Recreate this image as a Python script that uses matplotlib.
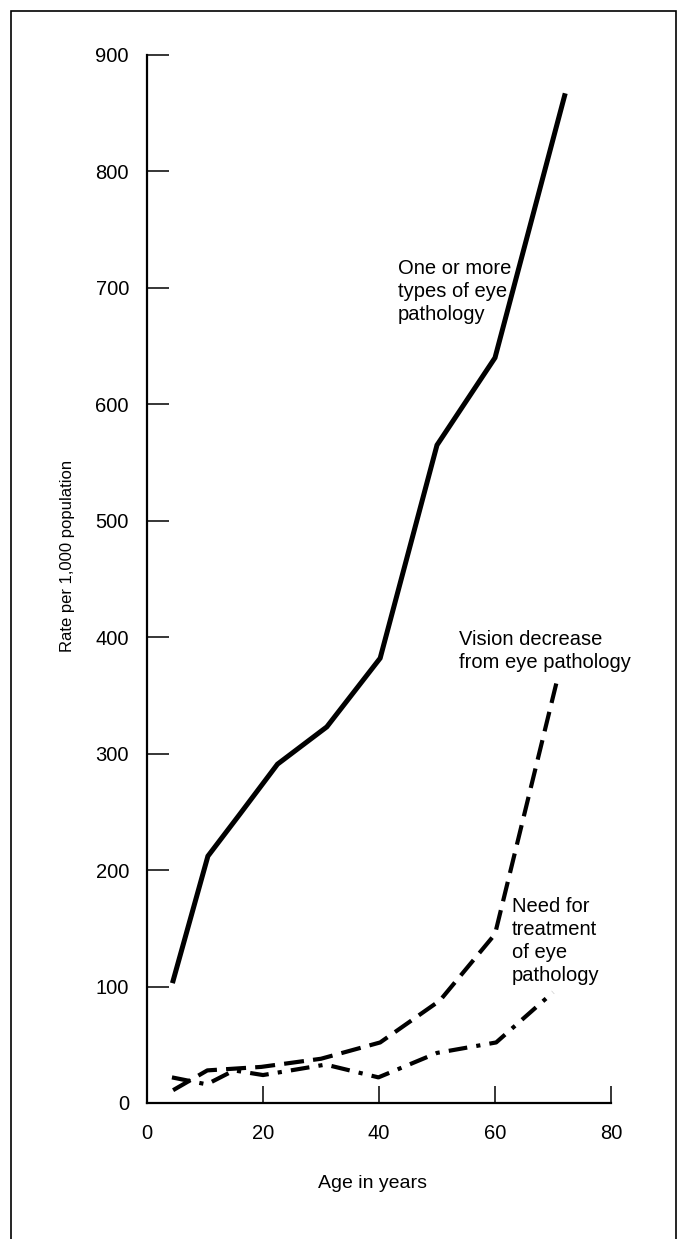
import matplotlib
matplotlib.use("Agg")
from matplotlib import pyplot as plt
from matplotlib.patches import Rectangle

plt.rcParams['font.family'] = ['Liberation Sans', 'DejaVu Sans']

# rate per 1,000 population by age
age_any = [4.5, 10.5, 16, 22.5, 31, 40.2, 50, 60, 72]
rate_any = [105, 212, 248, 291, 323, 382, 565, 640, 865]

age_vision = [4.5, 10.4, 19.7, 30, 40.2, 50.5, 60, 70.7]
rate_vision = [11, 28, 31, 38, 52, 88, 145, 363]

age_treat = [4.3, 10.3, 15, 20, 30.8, 39.9, 50, 60.2, 70]
rate_treat = [22, 16, 28, 24, 33, 22, 43, 52, 95]

x_ticks = [0, 20, 40, 60, 80]
y_ticks = [0, 100, 200, 300, 400, 500, 600, 700, 800, 900]

fig = plt.figure(figsize=(6.78, 12.39), dpi=100)
ax = fig.add_axes([147/678, 1-1103/1239, 464/678, 1048/1239])

ax.plot(age_any, rate_any, color="black", lw=3.6, solid_joinstyle="miter", clip_on=False)
ax.plot(age_vision, rate_vision, color="black", lw=3, dashes=(4.8, 2.2), clip_on=False)
ax.plot(age_treat, rate_treat, color="black", lw=3, dashes=(4.5, 2.2, 1, 2.2), clip_on=False)

ax.set_xlim(0, 80)
ax.set_ylim(0, 900)
ax.set_xticks(x_ticks)
ax.set_yticks(y_ticks)
for s in ["top", "right"]:
    ax.spines[s].set_visible(False)
for s in ["left", "bottom"]:
    ax.spines[s].set_linewidth(1.6)
ax.tick_params(axis="y", direction="in", length=16, width=1.1, pad=13, labelsize=14.5)
ax.tick_params(axis="x", direction="in", length=12, width=1.1, pad=15, labelsize=14.5)

ax.set_xlabel("Age in years", fontsize=14)
ax.xaxis.set_label_coords(0.485, -0.069)
ax.set_ylabel("Rate per 1,000 population", fontsize=12)
ax.yaxis.set_label_coords(-0.155, 0.522)

note = dict(fontsize=14.5, ha="left", linespacing=1.28)
ax.text(43.3, 669, "One or more\ntypes of eye\npathology", va="bottom", **note)
ax.text(53.8, 406, "Vision decrease\nfrom eye pathology", va="top", **note)
ax.text(62.9, 101, "Need for\ntreatment\nof eye\npathology", va="bottom", **note)

# page frame
fig.patches.append(Rectangle((11/678, -0.01), 665/678, 1.0 - 11/1239 + 0.01,
                             transform=fig.transFigure, fill=False,
                             edgecolor="black", lw=1.2))

fig.savefig("out.png", dpi=100)
